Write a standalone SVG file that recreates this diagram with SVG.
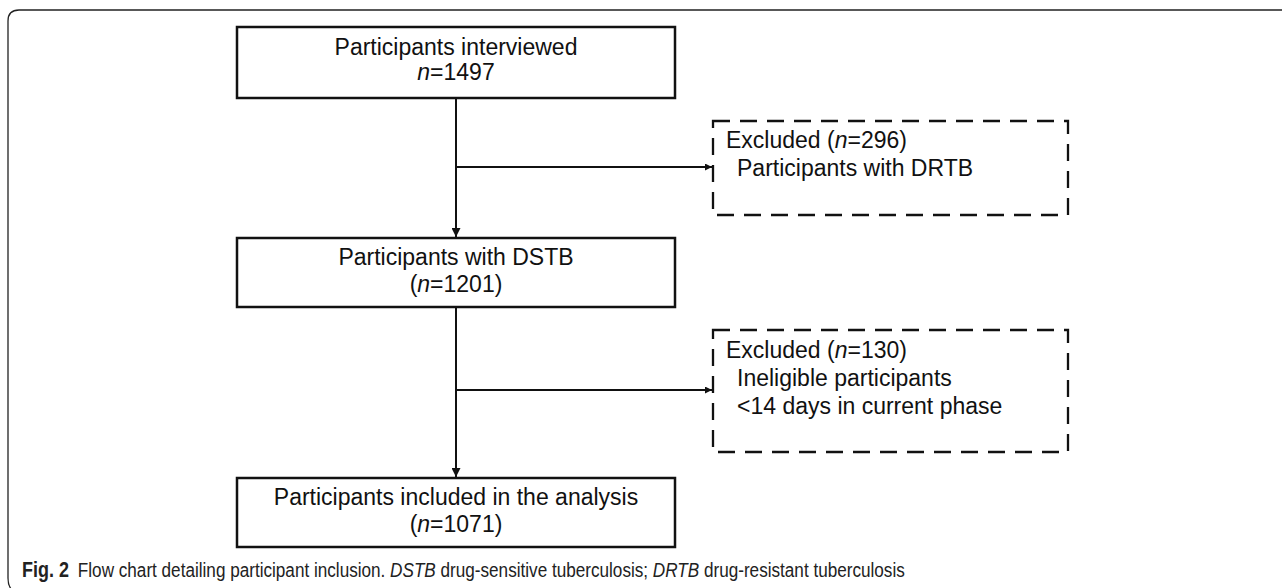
<svg xmlns="http://www.w3.org/2000/svg" width="1282" height="588" viewBox="0 0 1282 588">
<style>
.box{fill:#fff;stroke:#111;stroke-width:2.5}
.dash{fill:#fff;stroke:#111;stroke-width:2.3;stroke-dasharray:17 10}
.t{font-family:"Liberation Sans",Arial,sans-serif;font-size:23px;fill:#111}
.c{text-anchor:middle}
.cap{font-family:"Liberation Sans",Arial,sans-serif;font-size:21px;fill:#222}
.ln{stroke:#111;stroke-width:2;fill:none}
</style>
<defs>
<marker id="ah" viewBox="0 0 10 10" refX="10" refY="5" markerWidth="7" markerHeight="7" markerUnits="userSpaceOnUse" orient="auto">
<path d="M0,0 L10,5 L0,10 z" fill="#111"/>
</marker>
<marker id="av" viewBox="0 0 10 10" refX="10" refY="5" markerWidth="9" markerHeight="9" markerUnits="userSpaceOnUse" orient="auto">
<path d="M0,0 L10,5 L0,10 z" fill="#111"/>
</marker>
</defs>
<rect width="1282" height="588" fill="#fff"/>
<path d="M1282 10 H19 Q8 10 8 21 V578 Q8 586 12 590" fill="none" stroke="#222" stroke-width="1.3"/>
<g id="connectors">
<line class="ln" x1="456" y1="98" x2="456" y2="237" marker-end="url(#av)"/>
<line class="ln" x1="456" y1="167" x2="712" y2="167" marker-end="url(#ah)"/>
<line class="ln" x1="456" y1="307" x2="456" y2="477" marker-end="url(#av)"/>
<line class="ln" x1="456" y1="390" x2="712" y2="390" marker-end="url(#ah)"/>
</g>
<g id="n1">
<rect class="box" x="237" y="27" width="438" height="71"/>
<text class="t c" x="456" y="55">Participants interviewed</text>
<text class="t c" x="456" y="80"><tspan font-style="italic">n</tspan>=1497</text>
</g>
<g id="ex1">
<rect class="dash" x="713" y="121" width="355" height="94"/>
<text class="t" x="726" y="148">Excluded (<tspan font-style="italic">n</tspan>=296)</text>
<text class="t" x="737" y="176">Participants with DRTB</text>
</g>
<g id="n2">
<rect class="box" x="237" y="238" width="438" height="69"/>
<text class="t c" x="456" y="265">Participants with DSTB</text>
<text class="t c" x="456" y="292">(<tspan font-style="italic">n</tspan>=1201)</text>
</g>
<g id="ex2">
<rect class="dash" x="713" y="330" width="355" height="122"/>
<text class="t" x="726" y="358">Excluded (<tspan font-style="italic">n</tspan>=130)</text>
<text class="t" x="737" y="386">Ineligible participants</text>
<text class="t" x="737" y="414">&lt;14 days in current phase</text>
</g>
<g id="n3">
<rect class="box" x="237" y="478" width="438" height="69"/>
<text class="t c" x="456" y="505">Participants included in the analysis</text>
<text class="t c" x="456" y="532">(<tspan font-style="italic">n</tspan>=1071)</text>
</g>
<text class="cap" transform="scale(0.816,1)" x="27" y="577"><tspan font-weight="bold" font-size="22">Fig. 2</tspan><tspan dx="11">Flow chart detailing participant inclusion. </tspan><tspan font-style="italic">DSTB</tspan> drug-sensitive tuberculosis; <tspan font-style="italic">DRTB</tspan> drug-resistant tuberculosis</text>
</svg>
